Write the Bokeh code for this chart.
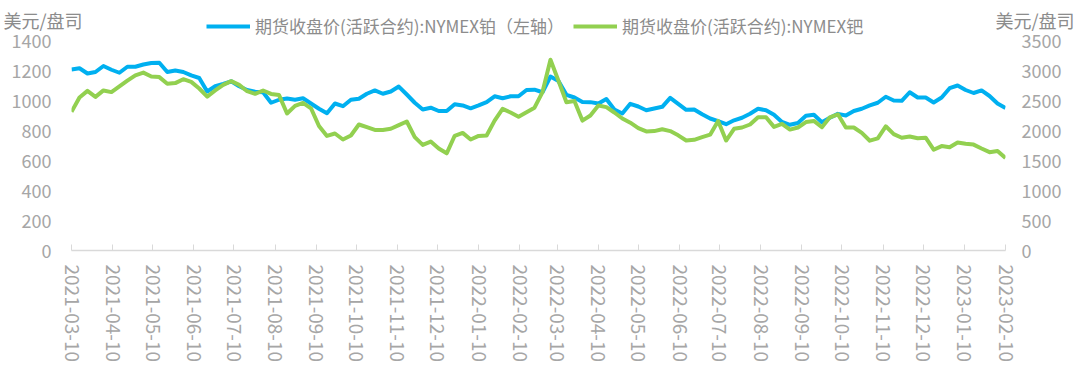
import pandas as pd
from bokeh.plotting import figure
from bokeh.layouts import column
from bokeh.models import (Range1d, LinearAxis, FixedTicker, DatetimeTickFormatter,
                          Legend, LegendItem, Label)
from bokeh.embed import file_html
from bokeh.resources import INLINE

# ---------------- data ----------------
start_date = "2021-03-10"
end_date = "2023-02-10"
dates = pd.date_range(start_date, end_date, freq="6D")

platinum = [1207, 1215, 1180, 1190, 1230, 1205, 1185, 1225, 1225, 1240,
            1250, 1252, 1190, 1200, 1190, 1167, 1150, 1060, 1095, 1110,
            1128, 1095, 1070, 1058, 1055, 985, 1005, 1013, 1005, 1015,
            980, 945, 915, 980, 962, 1005, 1012, 1045, 1067, 1045,
            1060, 1093, 1040, 985, 940, 952, 930, 930, 975, 967,
            948, 967, 989, 1028, 1015, 1028, 1028, 1070, 1072, 1055,
            1160, 1130, 1038, 1020, 990, 989, 980, 1010, 940, 913,
            978, 960, 935, 947, 958, 1018, 978, 938, 940, 908,
            880, 862, 842, 868, 885, 912, 945, 935, 905, 857,
            838, 850, 898, 905, 855, 885, 911, 900, 930, 945,
            967, 985, 1025, 1000, 998, 1055, 1020, 1020, 987, 1020,
            1082, 1100, 1070, 1050, 1067, 1030, 980, 950]

palladium = [2310, 2550, 2660, 2560, 2668, 2640, 2735, 2830, 2920, 2965,
             2900, 2890, 2780, 2790, 2855, 2810, 2700, 2565, 2667, 2760,
             2822, 2760, 2655, 2611, 2667, 2610, 2590, 2283, 2410, 2460,
             2370, 2075, 1910, 1950, 1850, 1917, 2100, 2055, 2010, 2010,
             2030, 2090, 2150, 1889, 1760, 1815, 1700, 1620, 1912, 1960,
             1850, 1910, 1917, 2165, 2361, 2300, 2230, 2305, 2380, 2640,
             3180, 2830, 2470, 2490, 2165, 2250, 2417, 2390, 2300, 2200,
             2130, 2040, 1985, 1990, 2020, 1990, 1920, 1833, 1845, 1890,
             1930, 2160, 1833, 2028, 2050, 2100, 2222, 2220, 2060, 2110,
             2015, 2050, 2140, 2160, 2055, 2220, 2270, 2050, 2050, 1960,
             1830, 1870, 2070, 1940, 1880, 1900, 1870, 1880, 1680, 1740,
             1720, 1800, 1780, 1765, 1700, 1639, 1660, 1540]

tick_labels = ["2021-03-10", "2021-04-10", "2021-05-10", "2021-06-10", "2021-07-10",
               "2021-08-10", "2021-09-10", "2021-10-10", "2021-11-10", "2021-12-10",
               "2022-01-10", "2022-02-10", "2022-03-10", "2022-04-10", "2022-05-10",
               "2022-06-10", "2022-07-10", "2022-08-10", "2022-09-10", "2022-10-10",
               "2022-11-10", "2022-12-10", "2023-01-10", "2023-02-10"]
left_ticks = [0, 200, 400, 600, 800, 1000, 1200, 1400]
right_ticks = [0, 500, 1000, 1500, 2000, 2500, 3000, 3500]

name_pt = "期货收盘价(活跃合约):NYMEX铂（左轴）"
name_pd = "期货收盘价(活跃合约):NYMEX钯"
unit = "美元/盘司"

# ---------------- styling ----------------
FONT = "Noto Sans CJK SC"
TICK_COLOR = "#a6a6a6"
TEXT_COLOR = "#8c8c8c"
BLUE = "#00b0f0"
GREEN = "#92d050"
W = 1075
HEAD_H = 40
OVERLAP = 12

# ---------------- header (units + legend) ----------------
head = figure(width=W, height=HEAD_H, x_range=Range1d(0, W), y_range=Range1d(0, HEAD_H),
              output_backend="svg", toolbar_location=None,
              x_axis_location=None, y_axis_location=None,
              min_border_left=0, min_border_right=0, min_border_top=0, min_border_bottom=0,
              margin=(0, 0, -OVERLAP, 0))
head.frame_align = False
head.outline_line_color = None
head.grid.visible = False
# legend proxies: single first points of each series (a one-point line draws nothing)
lg_pt = head.line(x=[dates[0]], y=[platinum[0]], line_color=BLUE, line_width=4)
lg_pd = head.line(x=[dates[0]], y=[palladium[0]], line_color=GREEN, line_width=4)
legend = Legend(items=[LegendItem(label=name_pt, renderers=[lg_pt]),
                       LegendItem(label=name_pd, renderers=[lg_pd])],
                location=(206, 2), orientation="horizontal",
                label_text_font=FONT, label_text_font_size="17px",
                label_text_color=TEXT_COLOR, glyph_width=44, glyph_height=18,
                label_standoff=5, spacing=9, padding=0, margin=0,
                border_line_color=None, background_fill_alpha=0)
head.add_layout(legend, "center")
head.add_layout(Label(x=3, y=HEAD_H - 19, x_units="screen", y_units="screen", text=unit,
                      text_font=FONT, text_font_size="18px", text_color=TEXT_COLOR,
                      text_baseline="middle", text_align="left"))
head.add_layout(Label(x=W - 1, y=HEAD_H - 19, x_units="screen", y_units="screen", text=unit,
                      text_font=FONT, text_font_size="18px", text_color=TEXT_COLOR,
                      text_baseline="middle", text_align="right"))

# ---------------- main chart ----------------
x0 = pd.Timestamp(start_date)
x1 = pd.Timestamp(end_date)

p = figure(width=W, height=OVERLAP + 210 + 126, x_axis_type="datetime",
           x_range=Range1d(x0, x1), y_range=Range1d(0, 1400),
           output_backend="svg", toolbar_location=None,
           min_border_left=71, min_border_right=70,
           min_border_top=OVERLAP, min_border_bottom=126)
p.frame_align = False
p.extra_y_ranges = {"pd": Range1d(0, 3500)}
p.outline_line_color = None
p.grid.visible = False
p.border_fill_alpha = 0
p.background_fill_alpha = 0

p.line(dates, platinum, line_color=BLUE, line_width=4, line_join="round")
p.line(dates, palladium, line_color=GREEN, line_width=4, line_join="round",
       y_range_name="pd")

# x axis
xa = p.xaxis[0]
xa.ticker = FixedTicker(ticks=[pd.Timestamp(t).value / 1e6 for t in tick_labels])
xa.formatter = DatetimeTickFormatter(days="%Y-%m-%d", months="%Y-%m-%d",
                                     years="%Y-%m-%d", hours="%Y-%m-%d")
xa.major_label_orientation = "vertical"
xa.major_label_text_font = FONT
xa.major_label_text_font_size = "19px"
xa.major_label_text_color = TICK_COLOR
xa.major_label_standoff = 14
xa.axis_line_color = "#d9d9d9"
xa.axis_line_width = 1.5
xa.major_tick_line_color = "#d9d9d9"
xa.major_tick_in = 6
xa.major_tick_out = 0
xa.minor_tick_line_color = None

# left axis
ya = p.yaxis[0]
ya.ticker = FixedTicker(ticks=left_ticks)
ya.axis_line_color = None
ya.major_tick_line_color = None
ya.minor_tick_line_color = None
ya.major_label_text_font = FONT
ya.major_label_text_font_size = "18px"
ya.major_label_text_color = TICK_COLOR
ya.major_label_standoff = 14

# right axis
ra = LinearAxis(y_range_name="pd", ticker=FixedTicker(ticks=right_ticks))
ra.axis_line_color = None
ra.major_tick_line_color = None
ra.minor_tick_line_color = None
ra.major_label_text_font = FONT
ra.major_label_text_font_size = "18px"
ra.major_label_text_color = TICK_COLOR
ra.major_label_standoff = 10
p.add_layout(ra, "right")

layout = column(head, p, spacing=0)
open("out.html", "w").write(file_html(layout, INLINE))
